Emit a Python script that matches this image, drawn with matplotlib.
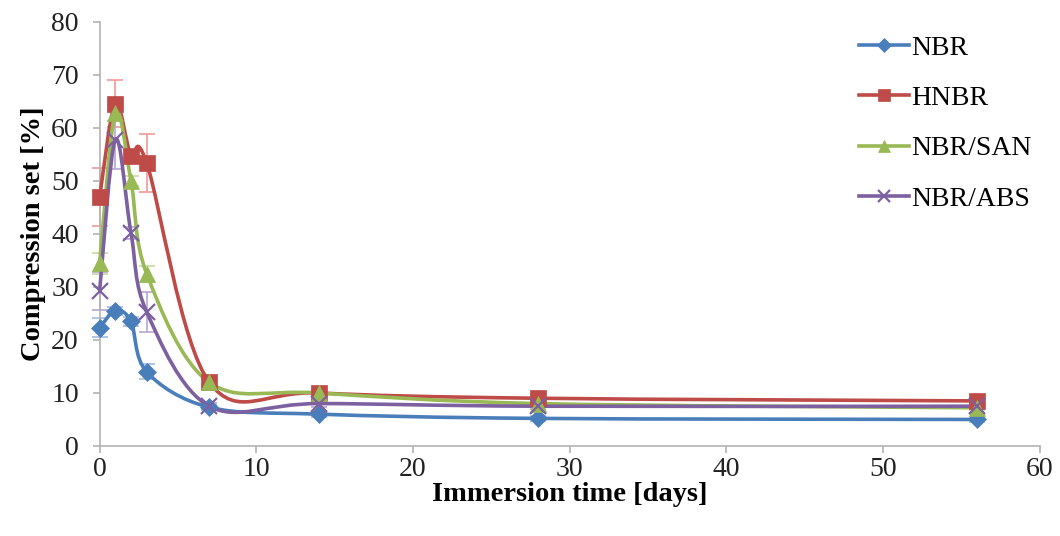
import numpy as np
import matplotlib.pyplot as plt
from matplotlib.path import Path
from matplotlib.patches import PathPatch

days = [0, 1, 2, 3, 7, 14, 28, 56]

nbr = [22.3, 25.5, 23.5, 14.0, 7.3, 6.0, 5.2, 5.0]
hnbr = [47.0, 64.6, 54.8, 53.4, 12.0, 10.0, 9.0, 8.5]
nbr_san = [34.5, 62.8, 50.0, 32.5, 12.0, 10.0, 8.0, 7.2]
nbr_abs = [29.3, 57.8, 40.2, 25.3, 7.5, 8.0, 7.5, 7.5]

nbr_err = [1.8, 0.8, 0.8, 1.4, 0.5, 0.5, 0.4, 0.4]
hnbr_err = [5.5, 4.4, 1.0, 5.4, 0.8, 0.8, 0.6, 0.6]
san_err = [2.0, 1.5, 1.0, 1.5, 0.6, 0.6, 0.5, 0.5]
abs_err = [3.6, 5.5, 1.2, 3.8, 0.6, 0.6, 0.5, 0.5]

labels = ["NBR", "HNBR", "NBR/SAN", "NBR/ABS"]
colors = ["#4a7ebb", "#be4b48", "#98b954", "#7d60a0"]
err_colors = ["#9fbbe0", "#f09a98", "#c5dca0", "#b9a7d1"]
markers = ["D", "s", "^", "x"]
msizes = [9, 12, 12, 12]

plt.rcParams['font.family'] = ['Liberation Serif', 'DejaVu Serif']


def smooth_path(x, y):
    # Excel-style smoothed line: Bezier segments through every point
    pts = np.column_stack([x, y]).astype(float)
    n = len(pts)
    verts = [pts[0]]
    codes = [Path.MOVETO]
    for i in range(n - 1):
        p0 = pts[i - 1] if i > 0 else pts[i]
        p1 = pts[i]
        p2 = pts[i + 1]
        p3 = pts[i + 2] if i + 2 < n else pts[i + 1]
        c1 = p1 + (p2 - p0) / 6.0
        c2 = p2 - (p3 - p1) / 6.0
        verts += [c1, c2, p2]
        codes += [Path.CURVE4] * 3
    return Path(verts, codes)


fig = plt.figure(figsize=(10.6, 5.36), dpi=100)
ax = fig.add_axes([0.094, 0.168, 0.887, 0.791])

series = [nbr, hnbr, nbr_san, nbr_abs]
errs = [nbr_err, hnbr_err, san_err, abs_err]

for k in range(4):
    ax.errorbar(days, series[k], yerr=errs[k], fmt="none", ecolor=err_colors[k],
                elinewidth=1.2, capsize=6, capthick=1.2, zorder=2, clip_on=False)

for k in range(4):
    patch = PathPatch(smooth_path(days, series[k]), facecolor="none",
                      edgecolor=colors[k], lw=2.6, zorder=3, clip_on=False)
    ax.add_patch(patch)
    mew = 1.6 if markers[k] == "x" else 0.5
    ax.plot(days, series[k], linestyle="none", marker=markers[k], ms=msizes[k],
            color=colors[k], mec=colors[k], mew=mew, zorder=4, clip_on=False)
    ax.plot([], [], color=colors[k], lw=2.6, marker=markers[k],
            ms=msizes[k] * 0.75, mew=mew, label=labels[k])

ax.set_xlim(0, 60)
ax.set_ylim(0, 80)
ax.set_xticks(range(0, 61, 10))
ax.set_yticks(range(0, 81, 10))

for s in ["top", "right"]:
    ax.spines[s].set_visible(False)
for s in ["left", "bottom"]:
    ax.spines[s].set_color("#b3b3b3")
    ax.spines[s].set_linewidth(1.2)
ax.tick_params(axis="both", direction="out", length=5, width=1.2, color="#b3b3b3",
               labelsize=20, labelcolor="#222222")
ax.tick_params(axis="y", pad=10)
ax.tick_params(axis="x", pad=3)

ax.set_xlabel("Immersion time [days]", fontsize=20.5, fontweight="bold", labelpad=0)
ax.set_ylabel("Compression set [%]", fontsize=20.5, fontweight="bold", labelpad=4)

ax.legend(loc="upper right", bbox_to_anchor=(1.012, 1.015), frameon=False, fontsize=20,
          handlelength=1.8, handletextpad=0.1, labelspacing=0.9, borderaxespad=0.3)

fig.savefig("out.png", dpi=100)
